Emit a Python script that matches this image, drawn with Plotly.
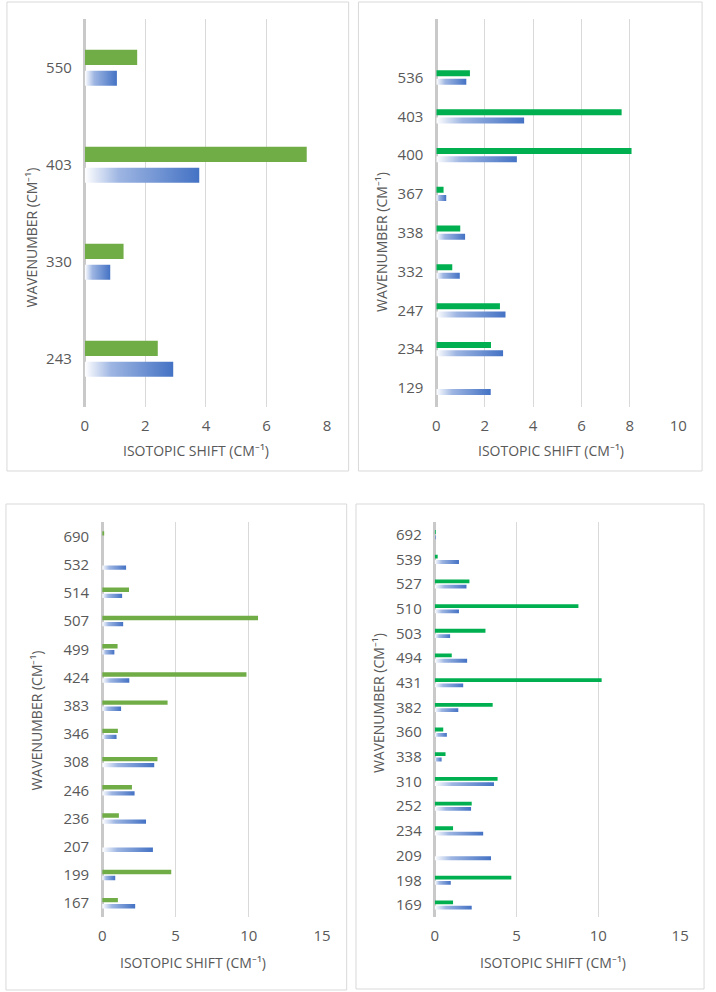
import plotly.graph_objects as go

# ---------------- data ----------------
# Panel 1 (top-left)
p1_cats = ["243", "330", "403", "550"]
p1_blue = [2.92, 0.84, 3.78, 1.06]
p1_green = [2.41, 1.28, 7.33, 1.73]

# Panel 2 (top-right)
p2_cats = ["129", "234", "247", "332", "338", "367", "400", "403", "536"]
p2_blue = [2.25, 2.76, 2.86, 0.97, 1.19, 0.41, 3.33, 3.63, 1.24]
p2_green = [0, 2.26, 2.63, 0.66, 0.99, 0.30, 8.07, 7.66, 1.39]

# Panel 3 (bottom-left)
p3_cats = ["167", "199", "207", "236", "246", "308", "346", "383", "424",
           "499", "507", "514", "532", "690"]
p3_blue = [2.25, 0.89, 3.46, 2.99, 2.21, 3.55, 0.98, 1.29, 1.85,
           0.83, 1.43, 1.36, 1.63, 0]
p3_green = [1.07, 4.71, 0, 1.14, 2.03, 3.77, 1.07, 4.46, 9.84,
            1.05, 10.63, 1.83, 0, 0.08]

# Panel 4 (bottom-right)
p4_cats = ["169", "198", "209", "234", "252", "310", "338", "360", "382",
           "431", "494", "503", "510", "527", "539", "692"]
p4_blue = [2.26, 0.98, 3.44, 2.96, 2.22, 3.62, 0.42, 0.74, 1.44,
           1.74, 1.98, 0.94, 1.48, 1.94, 1.48, 0.06]
p4_green = [1.12, 4.68, 0, 1.12, 2.26, 3.84, 0.66, 0.52, 3.54,
            10.2, 1.04, 3.1, 8.78, 2.12, 0.18, 0.04]

x_max = [8, 10, 15, 15]
x_dtick = [2, 2, 5, 5]
x_title = "ISOTOPIC SHIFT (CM\u207b\u00b9)"
y_title = "WAVENUMBER (CM\u207b\u00b9)"

# ---------------- styling ----------------
W, H = 716, 992
BLUE = "#4472C4"
GREEN_A = "#70AD47"
GREEN_B = "#00B050"
TXT = "#595959"
GRID = "#D9D9D9"
FONT = "Open Sans"

# plot areas in pixels: (left, right, top, bottom)
areas = [
    (82.3, 329.0, 19.3, 407.3),
    (440.3, 686.7, 19.3, 407.3),
    (100.0, 324.0, 522.3, 917.3),
    (438.7, 688.7, 522.3, 917.3),
]
# panel borders in pixels: (x0, x1, y0, y1)
borders = [
    (3, 351, 2, 471),
    (361, 711, 2, 471),
    (2, 349, 504, 990),
    (358.5, 713, 504, 989),
]
# axis title centres in pixels
xt_pos = [(196, 450), (557, 450), (193, 962), (559, 962)]
yt_pos = [(27, 238), (385, 242), (33, 720), (381, 703)]

panels = [
    (p1_cats, p1_blue, p1_green, GREEN_A),
    (p2_cats, p2_blue, p2_green, GREEN_B),
    (p3_cats, p3_blue, p3_green, GREEN_A),
    (p4_cats, p4_blue, p4_green, GREEN_B),
]
# extra empty rows at top of category axis
extra_rows = [0, 1, 0, 0]

fig = go.Figure()
layout = dict(
    width=W, height=H,
    margin=dict(l=0, r=0, t=0, b=0),
    paper_bgcolor="white", plot_bgcolor="white",
    barmode="group", bargap=0.57, bargroupgap=0.28,
    showlegend=False,
    font=dict(family=FONT, color=TXT, size=15),
    shapes=[], annotations=[],
)

for i, (cats, blue, green, gcol) in enumerate(panels):
    n = i + 1
    xa = "x" if n == 1 else f"x{n}"
    ya = "y" if n == 1 else f"y{n}"
    fig.add_trace(go.Bar(y=cats, x=blue, orientation="h", xaxis=xa, yaxis=ya,
                         marker=dict(color=BLUE, line=dict(width=0)),
                         name="blue", hoverinfo="x+y"))
    fig.add_trace(go.Bar(y=cats, x=green, orientation="h", xaxis=xa, yaxis=ya,
                         marker=dict(color=gcol, line=dict(width=0)),
                         name="green", hoverinfo="x+y"))
    l, r, t, b = areas[i]
    layout[f"xaxis{'' if n == 1 else n}"] = dict(
        domain=[l / W, r / W], anchor=ya, range=[0, x_max[i]], dtick=x_dtick[i],
        tick0=0, showgrid=True, gridcolor=GRID, gridwidth=1.2,
        zeroline=True, zerolinecolor="#C9C9C9", zerolinewidth=2.5,
        showline=False, ticks="", tickfont=dict(size=15, color=TXT),
        ticklabelstandoff=8, fixedrange=True,
    )
    layout[f"yaxis{'' if n == 1 else n}"] = dict(
        domain=[1 - b / H, 1 - t / H], anchor=xa, type="category",
        categoryorder="array", categoryarray=cats,
        range=[-0.5, len(cats) - 0.5 + extra_rows[i]],
        showgrid=False, zeroline=False, showline=False, ticks="",
        tickfont=dict(size=15, color=TXT), ticklabelstandoff=12, fixedrange=True,
    )
    x0, x1, y0, y1 = borders[i]
    layout["shapes"].append(dict(type="rect", xref="paper", yref="paper",
                                 x0=x0 / W, x1=x1 / W, y0=1 - y1 / H, y1=1 - y0 / H,
                                 line=dict(color="#D9D9D9", width=1), layer="below"))
    cx, cy = xt_pos[i]
    layout["annotations"].append(dict(text=x_title, xref="paper", yref="paper",
                                      x=cx / W, y=1 - cy / H, showarrow=False,
                                      xanchor="center", yanchor="middle",
                                      font=dict(size=14, color=TXT)))
    cx, cy = yt_pos[i]
    layout["annotations"].append(dict(text=y_title, xref="paper", yref="paper",
                                      x=cx / W, y=1 - cy / H, showarrow=False,
                                      textangle=-90, xanchor="center", yanchor="middle",
                                      font=dict(size=14, color=TXT)))

fig.update_layout(**layout)

post_js = """
document.body.style.margin = '0';
document.body.style.padding = '0';
var gd = document.getElementById('{plot_id}');
function applyGrad(){
  var ns = 'http://www.w3.org/2000/svg';
  var svg = gd.querySelector('svg.main-svg');
  if (!svg) return;
  var defs = svg.querySelector('defs');
  if (!defs) { defs = document.createElementNS(ns, 'defs'); svg.insertBefore(defs, svg.firstChild); }
  if (!document.getElementById('bluegrad')) {
    var lg = document.createElementNS(ns, 'linearGradient');
    lg.setAttribute('id', 'bluegrad');
    lg.setAttribute('x1', '0'); lg.setAttribute('y1', '0');
    lg.setAttribute('x2', '1'); lg.setAttribute('y2', '0');
    var stops = [['0', '#FFFFFF'], ['0.3', '#9DB5E2'], ['1', '#4472C4']];
    stops.forEach(function(s){
      var st = document.createElementNS(ns, 'stop');
      st.setAttribute('offset', s[0]);
      st.setAttribute('stop-color', s[1]);
      lg.appendChild(st);
    });
    defs.appendChild(lg);
  }
  gd.querySelectorAll('.barlayer .point path').forEach(function(p){
    var f = p.style.fill;
    if (f === 'rgb(68, 114, 196)' || f === 'url("#bluegrad")' || f === 'url(#bluegrad)') {
      p.style.fill = 'url(#bluegrad)';
    }
  });
}
applyGrad();
gd.on && gd.on('plotly_afterplot', applyGrad);
"""

fig.write_html("out.html", post_script=post_js, config={"displayModeBar": False})
